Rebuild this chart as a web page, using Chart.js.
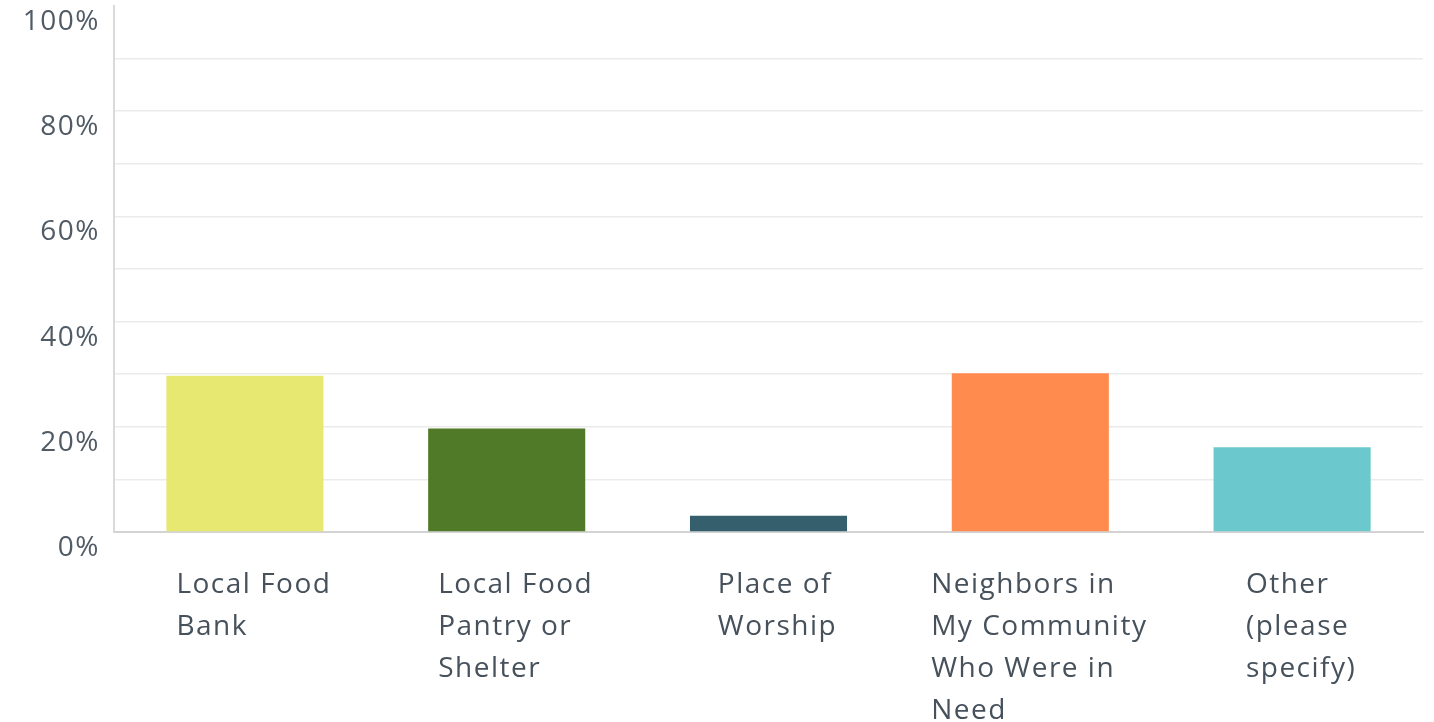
<!DOCTYPE html>
<html>
<head>
<meta charset="utf-8">
<script src="https://cdn.jsdelivr.net/npm/chart.js@4/dist/chart.umd.min.js"></script>
<style>
  html, body { margin: 0; padding: 0; background: #fff; }
  #wrap { width: 1434px; height: 722px; }
</style>
</head>
<body>
<div id="wrap"><canvas id="c"></canvas></div>
<script>
// categories: each one split into the lines shown under the axis
const categories = [
  ['Local Food', 'Bank'],
  ['Local Food', 'Pantry or', 'Shelter'],
  ['Place of', 'Worship'],
  ['Neighbors in', 'My Community', 'Who Were in', 'Need'],
  ['Other', '(please', 'specify)']
];
const percents = [29.7, 19.7, 3.1, 30.2, 16.1];
const barColors = ['#e6e872', '#507a27', '#365f6d', '#ff8b4f', '#6bc8cc'];
const yTickLabels = [0, 20, 40, 60, 80, 100];

const textColor = '#46515b';
const fontFamily = '"Open Sans", sans-serif';

// block of lines, left aligned, centred under each category
const xLabelPlugin = {
  id: 'xLabels',
  beforeDraw(chart) {
    chart.ctx.letterSpacing = '1.5px';
  },
  afterDraw(chart) {
    const { ctx, scales: { x } } = chart;
    ctx.save();
    ctx.letterSpacing = '1.5px';
    ctx.font = '28px ' + fontFamily;
    ctx.fillStyle = textColor;
    ctx.textAlign = 'left';
    ctx.textBaseline = 'middle';
    const top = chart.chartArea.bottom + 53;
    categories.forEach((lines, i) => {
      const w = Math.max(...lines.map(l => ctx.measureText(l).width));
      const left = x.getPixelForValue(i) - w / 2 + 9;
      lines.forEach((l, j) => ctx.fillText(l, left, top + j * 42));
    });
    ctx.restore();
  }
};

new Chart(document.getElementById('c'), {
  type: 'bar',
  data: {
    labels: categories.map(c => c.join(' ')),
    datasets: [{
      data: percents,
      backgroundColor: barColors,
      borderWidth: 0,
      barPercentage: 0.6,
      categoryPercentage: 1.0
    }]
  },
  options: {
    responsive: true,
    maintainAspectRatio: false,
    animation: false,
    layout: { padding: { top: 6, right: 11, left: 0, bottom: 0 } },
    plugins: {
      legend: { display: false },
      tooltip: { enabled: false }
    },
    scales: {
      x: {
        grid: { display: false },
        border: { color: '#d3d3d3', width: 2 },
        ticks: { display: false },
        afterFit: s => { s.height = 190; }
      },
      y: {
        min: 0,
        max: 100,
        grid: {
          color: (c) => c.tick && c.tick.value === 100 ? 'rgba(0,0,0,0)' : '#ebebeb',
          lineWidth: 1.5,
          drawTicks: false
        },
        border: { color: '#dadada', width: 2 },
        ticks: {
          stepSize: 10,
          padding: 14,
          labelOffset: 16,
          color: '#505b65',
          font: { family: fontFamily, size: 28 },
          callback: v => yTickLabels.includes(v) ? v + '%' : ''
        },
        afterFit: s => { s.width = 114; s.paddingTop = 0; s.paddingBottom = 0; }
      }
    }
  },
  plugins: [xLabelPlugin]
});
</script>
</body>
</html>
